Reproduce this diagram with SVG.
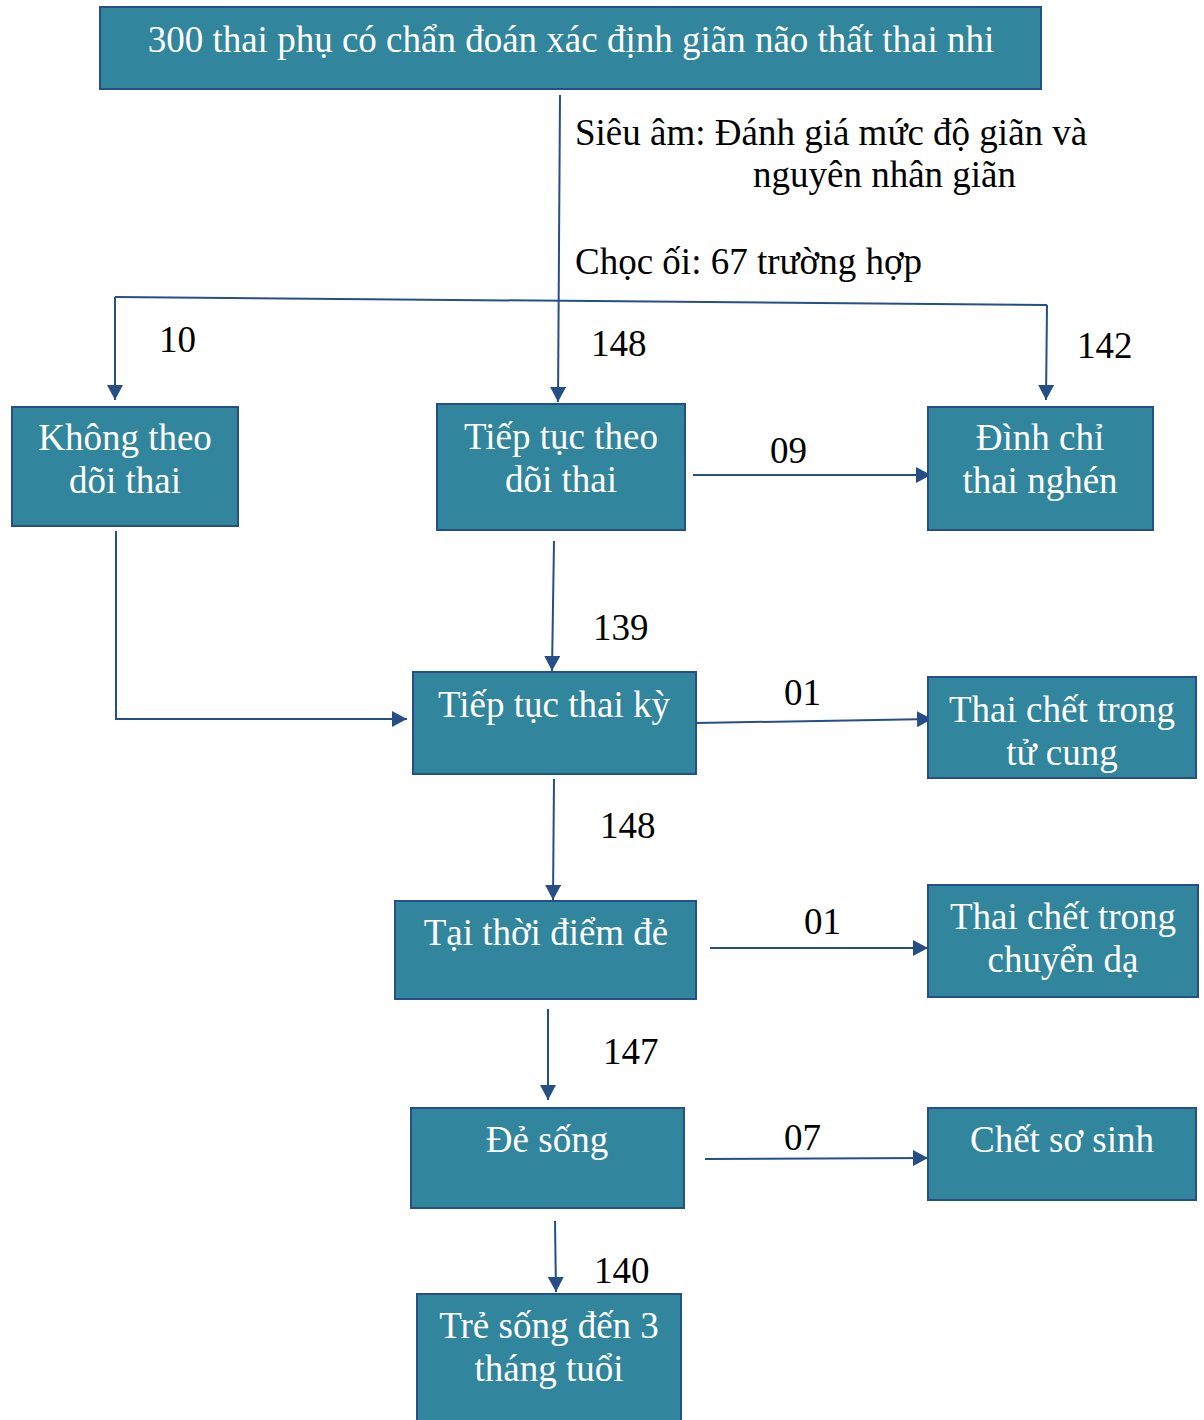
<svg xmlns="http://www.w3.org/2000/svg" width="1204" height="1420" viewBox="0 0 1204 1420">
<defs>
<style>
.box{fill:#31859C;stroke:#254F86;stroke-width:2}
.nt{font-family:"Liberation Serif","Times New Roman",serif;font-size:37px;fill:#ffffff;text-anchor:middle}
.lb{font-family:"Liberation Serif","Times New Roman",serif;font-size:37px;fill:#000000}
.cn{fill:none;stroke:#254F86;stroke-width:2}
</style>
<marker id="ah2" viewBox="0 0 10 10" refX="10" refY="5" markerWidth="15" markerHeight="16" markerUnits="userSpaceOnUse" orient="auto" preserveAspectRatio="none">
<path d="M0,0 L10,5 L0,10 z" fill="#254F86"/>
</marker>
</defs>
<rect width="1204" height="1420" fill="#ffffff"/>
<g id="connectors">
<path class="cn" d="M560,95 L558,402" marker-end="url(#ah2)"/>
<path class="cn" d="M115,297 L1047,305"/>
<path class="cn" d="M115,297 L115,400" marker-end="url(#ah2)"/>
<path class="cn" d="M1047,305 L1046,400" marker-end="url(#ah2)"/>
<path class="cn" d="M693,475 L931,475" marker-end="url(#ah2)"/>
<path class="cn" d="M554,541 L552,671" marker-end="url(#ah2)"/>
<path class="cn" d="M116,531 L116,719 L407,719" marker-end="url(#ah2)"/>
<path class="cn" d="M696,723 L932,719" marker-end="url(#ah2)"/>
<path class="cn" d="M554,779 L553,900" marker-end="url(#ah2)"/>
<path class="cn" d="M710,948 L928,948" marker-end="url(#ah2)"/>
<path class="cn" d="M548,1009 L548,1100" marker-end="url(#ah2)"/>
<path class="cn" d="M705,1159 L928,1158" marker-end="url(#ah2)"/>
<path class="cn" d="M555,1221 L556,1292" marker-end="url(#ah2)"/>
</g>
<g id="labels">
<text class="lb" x="575" y="145">Siêu âm: Đánh giá mức độ giãn và</text>
<text class="lb" x="753" y="187">nguyên nhân giãn</text>
<text class="lb" x="575" y="274">Chọc ối: 67 trường hợp</text>
<text class="lb" x="159" y="352">10</text>
<text class="lb" x="591" y="356">148</text>
<text class="lb" x="1077" y="358">142</text>
<text class="lb" x="770" y="463">09</text>
<text class="lb" x="593" y="640">139</text>
<text class="lb" x="784" y="705">01</text>
<text class="lb" x="600" y="838">148</text>
<text class="lb" x="804" y="934">01</text>
<text class="lb" x="603" y="1064">147</text>
<text class="lb" x="784" y="1150">07</text>
<text class="lb" x="594" y="1283">140</text>
</g>
<g id="n-top"><rect class="box" x="100" y="7" width="941" height="82"/><text class="nt" x="571" y="52">300 thai phụ có chẩn đoán xác định giãn não thất thai nhi</text></g>
<g id="n-khong"><rect class="box" x="12" y="407" width="226" height="119"/><text class="nt" x="125" y="450">Không theo</text><text class="nt" x="125" y="493">dõi thai</text></g>
<g id="n-tieptuc"><rect class="box" x="437" y="404" width="248" height="126"/><text class="nt" x="561" y="449">Tiếp tục theo</text><text class="nt" x="561" y="492">dõi thai</text></g>
<g id="n-dinhchi"><rect class="box" x="928" y="407" width="225" height="123"/><text class="nt" x="1040" y="450">Đình chỉ</text><text class="nt" x="1040" y="493">thai nghén</text></g>
<g id="n-thaiky"><rect class="box" x="413" y="672" width="283" height="102"/><text class="nt" x="554" y="717">Tiếp tục thai kỳ</text></g>
<g id="n-tucung"><rect class="box" x="928" y="677" width="268" height="101"/><text class="nt" x="1062" y="722">Thai chết trong</text><text class="nt" x="1062" y="765">tử cung</text></g>
<g id="n-thoidiem"><rect class="box" x="395" y="901" width="301" height="98"/><text class="nt" x="546" y="945">Tại thời điểm đẻ</text></g>
<g id="n-chuyenda"><rect class="box" x="928" y="885" width="270" height="112"/><text class="nt" x="1063" y="929">Thai chết trong</text><text class="nt" x="1063" y="972">chuyển dạ</text></g>
<g id="n-desong"><rect class="box" x="411" y="1108" width="273" height="100"/><text class="nt" x="547" y="1152">Đẻ sống</text></g>
<g id="n-sosinh"><rect class="box" x="928" y="1108" width="268" height="92"/><text class="nt" x="1062" y="1152">Chết sơ sinh</text></g>
<g id="n-tre"><rect class="box" x="417" y="1294" width="264" height="140"/><text class="nt" x="549" y="1338">Trẻ sống đến 3</text><text class="nt" x="549" y="1381">tháng tuổi</text></g>
</svg>
